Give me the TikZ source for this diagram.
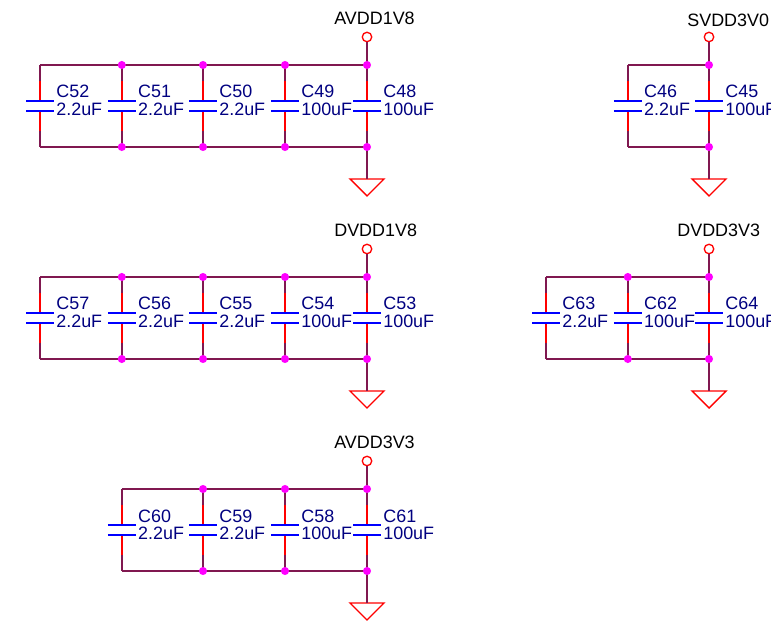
\documentclass[tikz,border=0pt]{standalone}
\usepackage{fontspec}
\setmainfont{Liberation Sans}
\definecolor{wirecol}{RGB}{128,24,80}
\definecolor{pincol}{RGB}{255,0,0}
\definecolor{platecol}{RGB}{0,0,255}
\definecolor{textcol}{RGB}{0,0,128}
\definecolor{dotcol}{RGB}{255,0,255}
\tikzset{
  wire/.style={draw=wirecol, line width=0.95pt},
  pin/.style={draw=pincol, line width=0.95pt},
  plate/.style={draw=platecol, line width=1.1pt},
  dot/.style={circle, fill=dotcol, inner sep=0pt, minimum size=4.6pt},
  port/.style={circle, draw=pincol, line width=0.75pt, fill=white, inner sep=0pt, minimum size=5.4pt},
  netname/.style={black, font=\fontsize{10.2pt}{11pt}\selectfont, inner sep=0pt, anchor=base west},
  capname/.style={textcol, font=\fontsize{10.2pt}{11pt}\selectfont, inner sep=0pt, anchor=base west},
  gnd/.style={draw=pincol, line width=0.8pt, line join=miter},
}
% name, x, y of upper rail, reference, value
\newcommand{\capcell}[5]{
  \coordinate (#1t) at (#2, #3);
  \coordinate (#1b) at (#2, #3+82);
  \draw[wire] (#1t) -- (#2, #3+16);
  \draw[pin] (#2, #3+16) -- (#2, #3+36);
  \draw[pin] (#2, #3+46) -- (#2, #3+66);
  \draw[wire] (#2, #3+66) -- (#1b);
  \draw[plate] (#2-14, #3+36) -- (#2+14, #3+36);
  \draw[plate] (#2-14, #3+46) -- (#2+14, #3+46);
  \node[capname] (#1n) at (#2+16, #3+33) {#4};
  \node[capname] (#1v) at (#2+16, #3+50.5) {#5};
}
% name, x, y of tip side
\newcommand{\gndmark}[3]{
  \coordinate (#1) at (#2, #3);
  \draw[gnd] (#2-17, #3) -- (#2+17, #3) -- (#2, #3+17) -- cycle;
}
\begin{document}
\begin{tikzpicture}[x=0.02cm, y=-0.02cm]

  \useasboundingbox (0, 0) rectangle (771, 621);
  \clip (0, 0) rectangle (771, 621);

  % AVDD1V8
  \capcell{c52}{40}{65}{C52}{2.2uF}
  \capcell{c51}{121.8}{65}{C51}{2.2uF}
  \capcell{c50}{203}{65}{C50}{2.2uF}
  \capcell{c49}{285}{65}{C49}{100uF}
  \capcell{c48}{367}{65}{C48}{100uF}
  \node[port] (p1) at (367, 37) {};
  \node[netname] (n1) at (334, 25) {AVDD1V8};
  \gndmark{g1}{367}{179}
  \draw[wire] (c52t) -- (c48t);
  \draw[wire] (c52b) -- (c48b);
  \draw[wire] (p1) -- (c48t);
  \draw[wire] (c48b) -- (g1);
  \foreach \c in {c51, c50, c49, c48} {
    \node[dot] (\c jt) at (\c t) {};
    \node[dot] (\c jb) at (\c b) {};
  }

  % DVDD1V8
  \capcell{c57}{40}{277}{C57}{2.2uF}
  \capcell{c56}{121.8}{277}{C56}{2.2uF}
  \capcell{c55}{203}{277}{C55}{2.2uF}
  \capcell{c54}{285}{277}{C54}{100uF}
  \capcell{c53}{367}{277}{C53}{100uF}
  \node[port] (p2) at (367, 249) {};
  \node[netname] (n2) at (334, 237) {DVDD1V8};
  \gndmark{g2}{367}{391}
  \draw[wire] (c57t) -- (c53t);
  \draw[wire] (c57b) -- (c53b);
  \draw[wire] (p2) -- (c53t);
  \draw[wire] (c53b) -- (g2);
  \foreach \c in {c56, c55, c54, c53} {
    \node[dot] (\c jt) at (\c t) {};
    \node[dot] (\c jb) at (\c b) {};
  }

  % AVDD3V3
  \capcell{c60}{121.8}{489}{C60}{2.2uF}
  \capcell{c59}{203}{489}{C59}{2.2uF}
  \capcell{c58}{285}{489}{C58}{100uF}
  \capcell{c61}{367}{489}{C61}{100uF}
  \node[port] (p3) at (367, 461) {};
  \node[netname] (n3) at (334, 449) {AVDD3V3};
  \gndmark{g3}{367}{603}
  \draw[wire] (c60t) -- (c61t);
  \draw[wire] (c60b) -- (c61b);
  \draw[wire] (p3) -- (c61t);
  \draw[wire] (c61b) -- (g3);
  \foreach \c in {c59, c58, c61} {
    \node[dot] (\c jt) at (\c t) {};
    \node[dot] (\c jb) at (\c b) {};
  }

  % SVDD3V0
  \capcell{c46}{627.8}{65}{C46}{2.2uF}
  \capcell{c45}{709}{65}{C45}{100uF}
  \node[port] (p4) at (709, 37) {};
  \node[netname] (n4) at (687, 27) {SVDD3V0};
  \gndmark{g4}{709}{179}
  \draw[wire] (c46t) -- (c45t);
  \draw[wire] (c46b) -- (c45b);
  \draw[wire] (p4) -- (c45t);
  \draw[wire] (c45b) -- (g4);
  \foreach \c in {c45} {
    \node[dot] (\c jt) at (\c t) {};
    \node[dot] (\c jb) at (\c b) {};
  }

  % DVDD3V3
  \capcell{c63}{546}{277}{C63}{2.2uF}
  \capcell{c62}{627.8}{277}{C62}{100uF}
  \capcell{c64}{709}{277}{C64}{100uF}
  \node[port] (p5) at (709, 249) {};
  \node[netname] (n5) at (677, 237) {DVDD3V3};
  \gndmark{g5}{709}{391}
  \draw[wire] (c63t) -- (c64t);
  \draw[wire] (c63b) -- (c64b);
  \draw[wire] (p5) -- (c64t);
  \draw[wire] (c64b) -- (g5);
  \foreach \c in {c62, c64} {
    \node[dot] (\c jt) at (\c t) {};
    \node[dot] (\c jb) at (\c b) {};
  }

\end{tikzpicture}
\end{document}
